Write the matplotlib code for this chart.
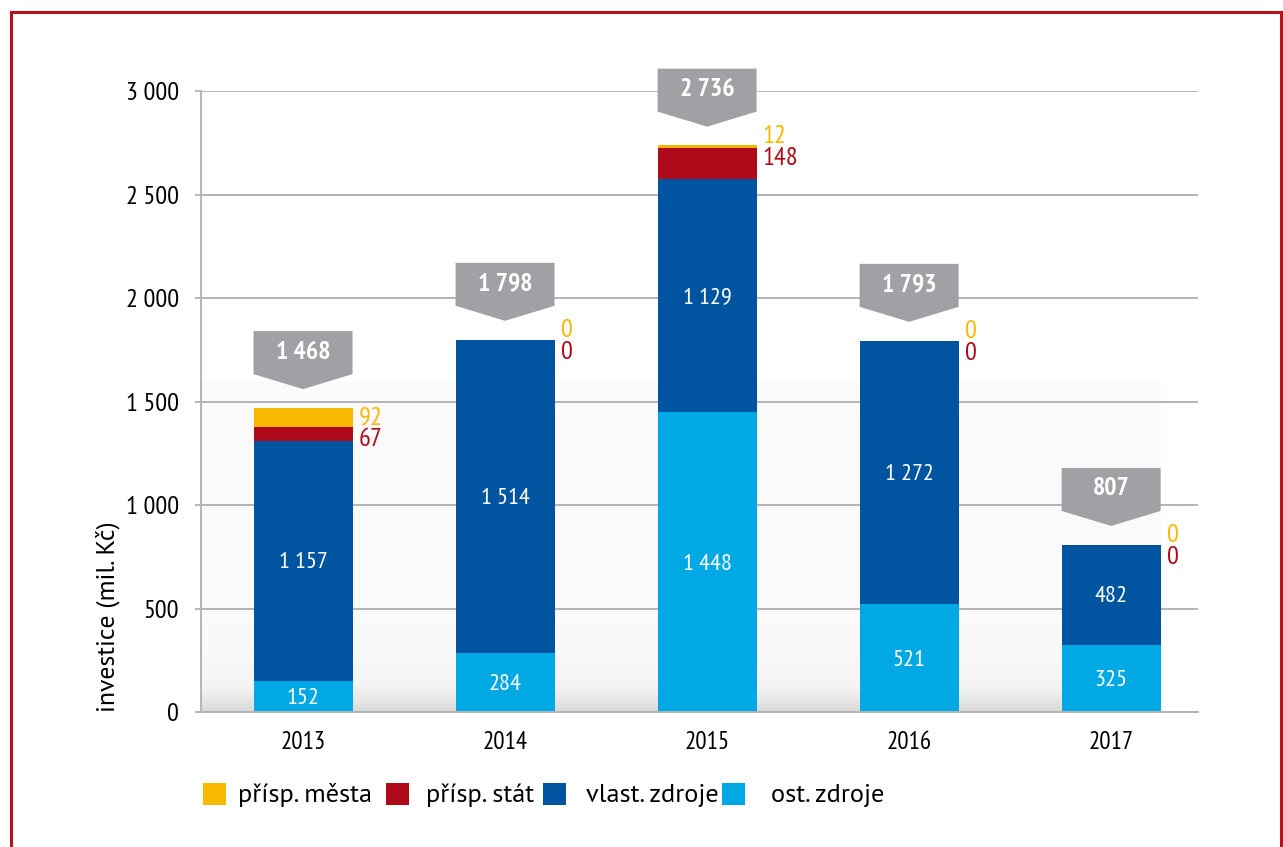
import numpy as np
import matplotlib
matplotlib.use("Agg")
import matplotlib.pyplot as plt
import matplotlib.font_manager as fm
from matplotlib.patches import Polygon, Rectangle
from matplotlib.lines import Line2D
from matplotlib.ticker import FuncFormatter

years = ["2013", "2014", "2015", "2016", "2017"]
ost_zdroje = [152, 284, 1448, 521, 325]
vlast_zdroje = [1157, 1514, 1129, 1272, 482]
prisp_stat = [67, 0, 148, 0, 0]
prisp_mesta = [92, 0, 12, 0, 0]
totals = [1468, 1798, 2736, 1793, 807]
series_names = ["přísp. města", "přísp. stát", "vlast. zdroje", "ost. zdroje"]

c_yellow = "#F9B800"
c_red = "#AE0A19"
c_blue = "#0054A0"
c_light = "#00A9E4"
c_box = "#A0A1A4"
c_grid = "#B4B4B4"


def pick(cands):
    names = {f.name for f in fm.fontManager.ttflist}
    for c in cands:
        if c in names:
            return c
    return "DejaVu Sans"


narrow = pick(["PT Sans Narrow", "Roboto Condensed", "IBM Plex Sans Condensed"])
regular = pick(["PT Sans", "Open Sans", "Noto Sans"])
plt.rcParams["font.family"] = [narrow, "DejaVu Sans"]

W, H = 1283, 847
fig = plt.figure(figsize=(W / 100, H / 100), dpi=100)
ax = fig.add_axes([201 / W, 1 - 712 / H, (1198 - 201) / W, (712 - 91) / H])
ax.set_xlim(-0.505, 4.43)
ax.set_ylim(0, 3000)

px = 3000 / 621  # data units per pixel
x = np.arange(len(years))
bw = 0.49

# soft background gradient in lower part of the plot
lev = np.linspace(0, 1600, 400)
g = np.interp(lev, [0, 60, 120, 250, 330, 1590, 1600], [0.85, 0.91, 0.955, 0.975, 0.98, 0.985, 1.0])
img = np.repeat(g[::-1, None], 2, axis=1)
ax.imshow(np.dstack([img, img, img]), extent=(-0.505, 4.243, 0, 1600), aspect="auto", zorder=0.1, interpolation="bilinear")

ax.set_axisbelow(True)
ax.yaxis.grid(True, color=c_grid, lw=1.4)
ax.set_yticks(np.arange(0, 3001, 500))
ax.yaxis.set_major_formatter(FuncFormatter(lambda v, p: f"{int(v):,}".replace(",", " ")))
for s in ["top", "right"]:
    ax.spines[s].set_visible(False)
ax.spines["left"].set_color(c_grid)
ax.spines["left"].set_linewidth(1.4)
ax.spines["bottom"].set_color(c_grid)
ax.spines["bottom"].set_linewidth(1.4)
ax.tick_params(axis="y", length=4, width=1.4, color=c_grid, pad=12, labelsize=19)
ax.tick_params(axis="x", length=0, pad=14, labelsize=18)
ax.set_xticks(x)
ax.set_xticklabels(years)

b1 = np.array(ost_zdroje)
b2 = b1 + np.array(vlast_zdroje)
b3 = b2 + np.array(prisp_stat)
ax.bar(x, ost_zdroje, bw, color=c_light, zorder=2)
ax.bar(x, vlast_zdroje, bw, bottom=b1, color=c_blue, zorder=2)
ax.bar(x, prisp_stat, bw, bottom=b2, color=c_red, zorder=2)
ax.bar(x, prisp_mesta, bw, bottom=b3, color=c_yellow, zorder=2)

for i in range(len(years)):
    ax.text(x[i], ost_zdroje[i] / 2 - 2 * px, f"{ost_zdroje[i]:,}".replace(",", " "), color="white",
            ha="center", va="center", fontsize=17.5, zorder=3)
    ax.text(x[i], b1[i] + vlast_zdroje[i] / 2 - 2 * px, f"{vlast_zdroje[i]:,}".replace(",", " "), color="white",
            ha="center", va="center", fontsize=17.5, zorder=3)
    top = b3[i] + prisp_mesta[i]
    if prisp_mesta[i] > 50:
        yy = top - prisp_mesta[i] / 2
    else:
        yy = top + 9 * px
    xl = x[i] + bw / 2 + 0.03
    ax.text(xl, yy, str(prisp_mesta[i]), color=c_yellow, ha="left", va="center", fontsize=19, zorder=3)
    ax.text(xl, yy - 22 * px, str(prisp_stat[i]), color=c_red, ha="left", va="center", fontsize=19, zorder=3)

    # total callout box
    t = totals[i]
    l, r = x[i] - bw / 2, x[i] + bw / 2
    poly = Polygon([[l, t + 77 * px], [r, t + 77 * px], [r, t + 34 * px], [x[i], t + 19 * px],
                    [l, t + 34 * px]], closed=True, color=c_box, zorder=4, clip_on=False, lw=0)
    ax.add_patch(poly)
    ax.text(x[i], t + 56 * px, f"{t:,}".replace(",", " "), color="white", fontweight="bold",
            ha="center", va="center", fontsize=18.5, zorder=5, clip_on=False)

fig.text(108 / W, 1 - 617 / H, "investice (mil. Kč)", rotation=90, ha="center", va="center",
         fontsize=18.5, family=[regular, "DejaVu Sans"])

# legend
leg_colors = [c_yellow, c_red, c_blue, c_light]
leg_patch_x = [203, 386, 543, 722]
leg_text_x = [238, 426, 586, 771]
for c, name, px0, tx0 in zip(leg_colors, series_names, leg_patch_x, leg_text_x):
    fig.add_artist(Rectangle((px0 / W, 1 - 805 / H), 23 / W, 22 / H, transform=fig.transFigure,
                             color=c, lw=0))
    fig.text(tx0 / W, 1 - 795 / H, name, ha="left", va="center", fontsize=19,
             family=[regular, "DejaVu Sans"])

# frame
bc = "#B5121B"
fig.add_artist(Line2D([10.5 / W, 10.5 / W], [0, 1 - 12 / H], color=bc, lw=2.2, transform=fig.transFigure))
fig.add_artist(Line2D([10.5 / W, 1281 / W], [1 - 12 / H, 1 - 12 / H], color=bc, lw=2.2, transform=fig.transFigure))
fig.add_artist(Line2D([1281 / W, 1281 / W], [0, 1 - 12 / H], color=bc, lw=2.2, transform=fig.transFigure))

fig.savefig("out.png", dpi=100)
